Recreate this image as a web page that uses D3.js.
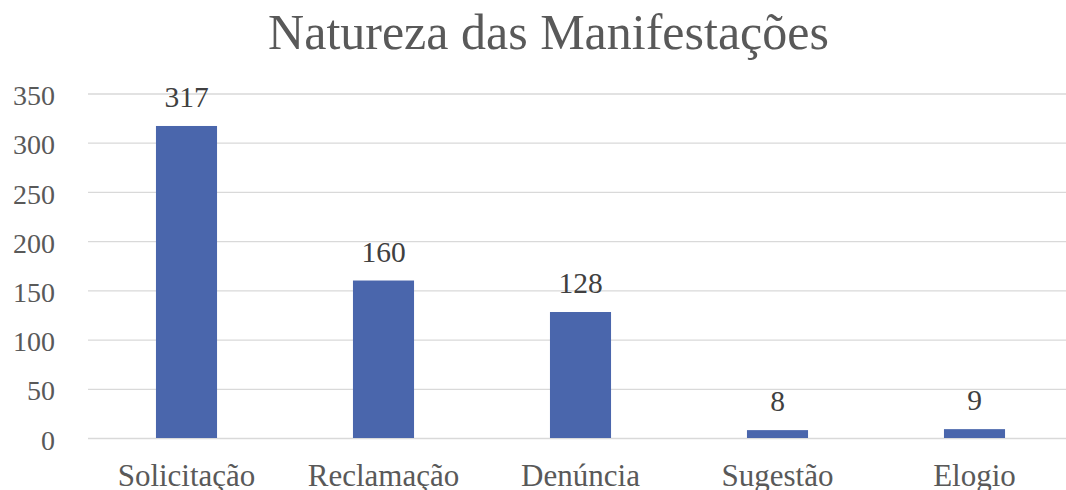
<!DOCTYPE html>
<html>
<head>
<meta charset="utf-8">
<script src="https://cdn.jsdelivr.net/npm/d3@7"></script>
<style>
  body { margin: 0; background: #fff; font-family: "Times New Roman", "Liberation Serif", Tinos, serif; }
  text { font-family: "Times New Roman", "Liberation Serif", Tinos, serif; }
</style>
</head>
<body>
<div id="chart"></div>
<script>
'use strict';

var categories = ['Solicitação', 'Reclamação', 'Denúncia', 'Sugestão', 'Elogio'];
var values = [317, 160, 128, 8, 9];
var yTicks = [0, 50, 100, 150, 200, 250, 300, 350];
var title = 'Natureza das Manifestações';

function render() {
  var width = 1066;
  var height = 490;
  var left = 88, right = 1073, top = 93.5, bottom = 438;

  var svg = d3.select('#chart').append('svg')
    .attr('width', width)
    .attr('height', height);

  var x = d3.scaleBand()
    .domain(categories)
    .range([left, right])
    .paddingInner(0.69)
    .paddingOuter(0.345);

  var y = d3.scaleLinear()
    .domain([0, 350])
    .range([bottom, top]);

  // gridlines + y labels
  var gy = svg.append('g')
    .attr('transform', 'translate(' + left + ',0)')
    .call(d3.axisLeft(y)
      .tickValues(yTicks)
      .tickSize(-(width - left))
      .tickPadding(33)
      .tickFormat(d3.format('d')))
    .attr('font-family', 'Times New Roman');
  gy.select('.domain').remove();
  gy.selectAll('.tick line').attr('stroke', '#d9d9d9').attr('stroke-width', 1.3);
  gy.selectAll('.tick text')
    .attr('fill', '#595959')
    .attr('font-size', 28)
    .attr('dy', '0.4em');

  // bars
  svg.append('g').selectAll('rect')
    .data(values)
    .enter()
    .append('rect')
    .attr('x', (d, i) => x(categories[i]))
    .attr('width', x.bandwidth())
    .attr('y', d => y(d))
    .attr('height', d => y(0) - y(d))
    .attr('fill', '#4a66ac');

  // data labels
  svg.append('g').selectAll('text')
    .data(values)
    .enter()
    .append('text')
    .attr('font-family', 'Times New Roman')
    .attr('x', (d, i) => x(categories[i]) + x.bandwidth() / 2)
    .attr('y', d => y(d) - 19)
    .attr('text-anchor', 'middle')
    .attr('fill', '#404040')
    .attr('font-size', 29.5)
    .text(d => d);

  // x axis labels
  var gx = svg.append('g')
    .attr('transform', 'translate(0,' + bottom + ')')
    .call(d3.axisBottom(x).tickSize(0).tickPadding(0))
    .attr('font-family', 'Times New Roman');
  gx.select('.domain').remove();
  gx.selectAll('.tick text')
    .attr('fill', '#595959')
    .attr('font-size', 31)
    .attr('dy', 0)
    .attr('y', 48);

  // title
  svg.append('text')
    .attr('font-family', 'Times New Roman')
    .attr('x', 548.5)
    .attr('y', 49)
    .attr('text-anchor', 'middle')
    .attr('fill', '#595959')
    .attr('font-size', 50)
    .text(title);
}

render();
</script>
</body>
</html>
